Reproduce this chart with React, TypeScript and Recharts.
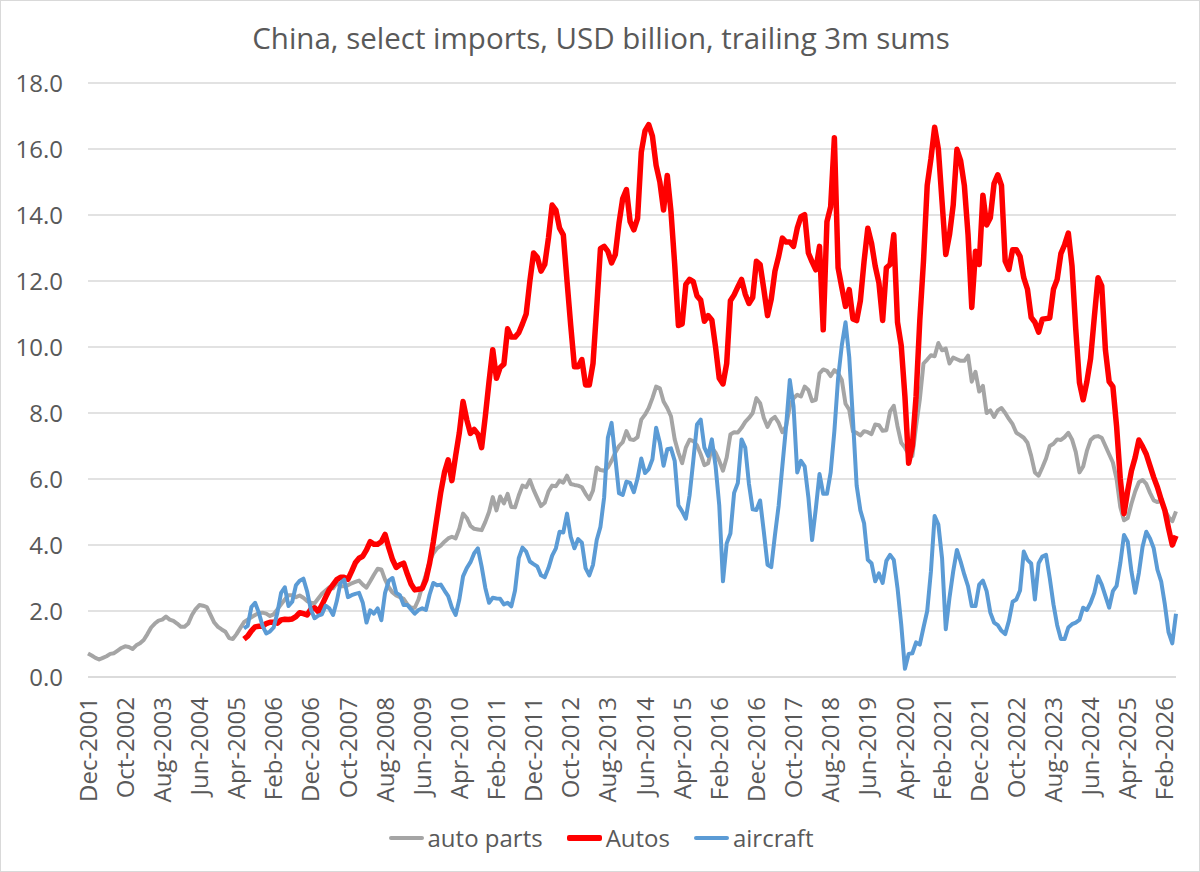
import React from 'react';
import { LineChart, Line, XAxis, YAxis, CartesianGrid } from 'recharts';

const MONTHS = ['Jan', 'Feb', 'Mar', 'Apr', 'May', 'Jun', 'Jul', 'Aug', 'Sep', 'Oct', 'Nov', 'Dec'];
const FIRST_YEAR = 2001;
const FIRST_MONTH = 11; // Dec
const SERIES_START = 42; // Jun-2005, first month for Autos and aircraft

const autoParts = [
  0.71, 0.65, 0.58, 0.53, 0.58, 0.63, 0.70, 0.72, 0.80, 0.88,
  0.93, 0.91, 0.85, 0.96, 1.02, 1.12, 1.30, 1.50, 1.62, 1.71,
  1.74, 1.83, 1.74, 1.70, 1.62, 1.52, 1.52, 1.62, 1.88, 2.06,
  2.18, 2.16, 2.12, 1.88, 1.65, 1.52, 1.44, 1.37, 1.18, 1.15,
  1.30, 1.48, 1.66, 1.74, 1.81, 1.88, 1.94, 1.95, 1.92, 1.85,
  1.90, 2.05, 2.20, 2.35, 2.48, 2.48, 2.42, 2.47, 2.40, 2.30,
  2.25, 2.23, 2.38, 2.52, 2.62, 2.72, 2.69, 2.85, 2.75, 2.75,
  2.78, 2.84, 2.88, 2.92, 2.80, 2.71, 2.90, 3.10, 3.28, 3.26,
  2.95, 2.72, 2.56, 2.47, 2.42, 2.37, 2.20, 2.10, 2.10, 2.35,
  2.75, 3.10, 3.50, 3.75, 3.90, 3.98, 4.10, 4.20, 4.25, 4.20,
  4.50, 4.95, 4.82, 4.58, 4.49, 4.47, 4.45, 4.70, 5.00, 5.45,
  5.05, 5.47, 5.26, 5.55, 5.15, 5.14, 5.50, 5.80, 5.75, 5.97,
  5.67, 5.42, 5.18, 5.28, 5.62, 5.80, 5.78, 5.95, 5.89, 6.10,
  5.85, 5.82, 5.80, 5.75, 5.55, 5.39, 5.65, 6.35, 6.27, 6.25,
  6.35, 6.55, 6.80, 7.00, 7.12, 7.45, 7.20, 7.18, 7.27, 7.80,
  7.95, 8.15, 8.45, 8.80, 8.75, 8.35, 8.15, 7.90, 7.20, 6.80,
  6.48, 6.95, 7.19, 7.15, 7.02, 6.75, 6.42, 6.48, 6.95, 6.80,
  6.55, 6.25, 6.65, 7.35, 7.42, 7.41, 7.55, 7.73, 7.85, 8.00,
  8.45, 8.30, 7.85, 7.58, 7.80, 7.88, 7.70, 7.42, 7.60, 8.20,
  8.45, 8.55, 8.50, 8.80, 8.70, 8.36, 8.40, 9.20, 9.32, 9.28,
  9.12, 9.30, 9.21, 9.00, 8.28, 8.10, 7.44, 7.40, 7.32, 7.45,
  7.42, 7.36, 7.65, 7.63, 7.46, 7.48, 8.05, 8.22, 7.60, 7.10,
  6.95, 6.75, 6.70, 7.60, 8.40, 9.50, 9.62, 9.75, 9.72, 10.12,
  9.90, 9.95, 9.50, 9.68, 9.63, 9.58, 9.58, 9.74, 8.95, 9.25,
  8.65, 8.82, 8.00, 8.08, 7.88, 8.08, 8.15, 8.00, 7.82, 7.66,
  7.40, 7.33, 7.25, 7.10, 6.70, 6.20, 6.10, 6.35, 6.62, 7.00,
  7.07, 7.20, 7.18, 7.27, 7.40, 7.20, 6.82, 6.20, 6.38, 6.85,
  7.18, 7.28, 7.30, 7.25, 7.00, 6.75, 6.50, 6.00, 5.15, 4.75,
  4.82, 5.25, 5.62, 5.90, 5.97, 5.85, 5.58, 5.35, 5.30, 5.35,
  5.05, 4.85, 4.72, 5.02,
];

// Autos, from Jun-2005
const autos = [
  1.15, 1.24, 1.40, 1.52, 1.54, 1.54, 1.62, 1.66,
  1.66, 1.63, 1.73, 1.75, 1.74, 1.76, 1.83, 1.95, 1.92, 1.88,
  2.05, 2.10, 1.98, 2.18, 2.42, 2.65, 2.80, 2.95, 3.02, 3.02,
  2.96, 3.20, 3.46, 3.60, 3.66, 3.85, 4.10, 4.02, 4.02, 4.10,
  4.32, 3.92, 3.56, 3.32, 3.40, 3.45, 3.12, 2.82, 2.64, 2.66,
  2.68, 2.95, 3.45, 4.10, 4.85, 5.60, 6.20, 6.58, 5.95, 6.70,
  7.40, 8.35, 7.80, 7.38, 7.50, 7.36, 6.95, 7.90, 8.95, 9.92,
  9.05, 9.38, 9.48, 10.55, 10.30, 10.30, 10.43, 10.70, 11.00, 12.00,
  12.85, 12.72, 12.30, 12.50, 13.30, 14.30, 14.15, 13.60, 13.40, 12.00,
  10.65, 9.40, 9.40, 9.62, 8.85, 8.85, 9.50, 11.20, 12.98, 13.05,
  12.90, 12.55, 12.80, 13.75, 14.50, 14.77, 13.80, 13.55, 13.90, 15.90,
  16.55, 16.74, 16.39, 15.50, 15.00, 14.15, 15.20, 14.10, 12.50, 10.65,
  10.70, 11.90, 12.05, 11.98, 11.55, 11.42, 10.78, 10.95, 10.82, 10.00,
  9.05, 8.88, 9.50, 11.40, 11.58, 11.82, 12.05, 11.60, 11.32, 11.50,
  12.60, 12.50, 11.75, 10.95, 11.45, 12.30, 12.75, 13.30, 13.18, 13.18,
  13.05, 13.60, 13.95, 14.01, 12.85, 12.58, 12.34, 13.05, 10.52, 13.80,
  14.25, 16.34, 12.40, 11.80, 11.23, 11.74, 10.85, 10.80, 11.40, 12.60,
  13.60, 13.15, 12.45, 11.94, 10.80, 12.40, 12.50, 13.40, 10.75, 10.05,
  8.50, 6.48, 7.00, 8.50, 10.80, 12.60, 14.90, 15.70, 16.66, 16.00,
  14.40, 12.80, 13.40, 14.30, 15.99, 15.65, 14.90, 13.40, 11.20, 12.90,
  12.50, 14.60, 13.70, 13.92, 14.95, 15.22, 14.90, 12.60, 12.35, 12.95,
  12.95, 12.75, 12.10, 11.75, 10.90, 10.75, 10.45, 10.84, 10.86, 10.88,
  11.75, 12.05, 12.83, 13.10, 13.45, 12.45, 10.55, 8.92, 8.40, 8.95,
  9.65, 10.90, 12.10, 11.85, 9.90, 8.95, 8.80, 7.60, 6.00, 4.95,
  5.65, 6.25, 6.65, 7.18, 6.98, 6.75, 6.40, 6.05, 5.75, 5.38,
  5.05, 4.50, 4.00, 4.28,
];

// aircraft, from Jun-2005
const aircraft = [
  1.47, 1.55, 2.12, 2.25, 1.95, 1.55, 1.32, 1.38,
  1.50, 1.95, 2.55, 2.72, 2.15, 2.28, 2.78, 2.92, 2.98, 2.60,
  2.05, 1.78, 1.86, 1.90, 2.16, 2.08, 1.88, 2.30, 2.85, 2.95,
  2.42, 2.48, 2.52, 2.55, 2.25, 1.65, 2.02, 1.92, 2.08, 1.72,
  2.55, 2.92, 3.00, 2.55, 2.48, 2.18, 2.18, 2.05, 1.92, 2.03,
  2.08, 2.03, 2.50, 2.85, 2.78, 2.80, 2.62, 2.45, 2.10, 1.88,
  2.35, 3.05, 3.30, 3.48, 3.75, 3.90, 3.35, 2.70, 2.25, 2.40,
  2.38, 2.37, 2.20, 2.25, 2.14, 2.62, 3.60, 3.92, 3.80, 3.50,
  3.42, 3.35, 3.08, 3.02, 3.30, 3.68, 3.90, 4.40, 4.38, 4.95,
  4.25, 3.90, 4.18, 4.07, 3.30, 3.08, 3.40, 4.15, 4.55, 5.45,
  7.25, 7.70, 6.65, 5.57, 5.52, 5.92, 5.88, 5.60, 6.02, 6.62,
  6.18, 6.30, 6.60, 7.55, 7.10, 6.40, 6.90, 6.93, 6.55, 5.20,
  5.02, 4.80, 5.50, 6.55, 7.65, 7.80, 6.95, 6.70, 7.20, 6.40,
  5.20, 2.90, 4.05, 4.35, 5.58, 5.88, 7.20, 6.95, 5.85, 5.08,
  5.06, 5.35, 4.40, 3.40, 3.33, 4.30, 5.20, 6.40, 7.60, 9.00,
  8.20, 6.20, 6.55, 6.38, 5.45, 4.15, 5.10, 6.15, 5.55, 5.55,
  6.20, 7.45, 9.05, 10.05, 10.75, 9.70, 7.80, 5.80, 5.05, 4.66,
  3.55, 3.45, 2.90, 3.14, 2.85, 3.52, 3.70, 3.55, 2.70, 1.60,
  0.25, 0.70, 0.72, 1.05, 0.98, 1.50, 2.00, 3.20, 4.88, 4.62,
  3.60, 1.45, 2.40, 3.20, 3.85, 3.50, 3.10, 2.75, 2.15, 2.15,
  2.80, 2.92, 2.60, 1.95, 1.65, 1.57, 1.40, 1.30, 1.70, 2.28,
  2.35, 2.62, 3.80, 3.55, 3.44, 2.35, 3.45, 3.65, 3.70, 3.00,
  2.20, 1.57, 1.15, 1.15, 1.50, 1.60, 1.65, 1.73, 2.10, 2.03,
  2.25, 2.55, 3.05, 2.80, 2.45, 2.10, 2.60, 2.76, 3.45, 4.30,
  4.10, 3.20, 2.55, 3.15, 3.95, 4.40, 4.20, 3.90, 3.25, 2.90,
  2.20, 1.35, 1.02, 1.92,
];

const yTicks = [0, 2, 4, 6, 8, 10, 12, 14, 16, 18];

const monthLabel = (i: number) => {
  const k = FIRST_MONTH + i;
  return `${MONTHS[k % 12]}-${FIRST_YEAR + Math.floor(k / 12)}`;
};

const data = autoParts.map((v, i) => ({
  month: monthLabel(i),
  parts: v,
  autos: i >= SERIES_START ? autos[i - SERIES_START] : null,
  aircraft: i >= SERIES_START ? aircraft[i - SERIES_START] : null,
}));

const FONT = '"Open Sans", sans-serif';
const TEXT = '#595959';

const legendItems = [
  { label: 'auto parts', color: '#A5A5A5', width: 4 },
  { label: 'Autos', color: '#FF0000', width: 6 },
  { label: 'aircraft', color: '#5B9BD5', width: 4 },
];

function MonthTick({ x, y, payload }: any) {
  return (
    <text
      x={x}
      y={y}
      transform={`rotate(-90 ${x} ${y})`}
      textAnchor="end"
      dy="0.36em"
      fontSize={24}
      fill={TEXT}
      fontFamily={FONT}
    >
      {payload.value}
    </text>
  );
}

export default function App() {
  return (
    <div
      style={{
        position: 'absolute',
        left: 0,
        top: 0,
        width: 1200,
        height: 872,
        background: '#fff',
        border: '1px solid #d9d9d9',
        boxSizing: 'border-box',
        fontFamily: FONT,
        overflow: 'hidden',
      }}
    >
      <div
        style={{
          position: 'absolute',
          top: 16,
          left: 0,
          width: 1200,
          textAlign: 'center',
          fontSize: 29.5,
          color: TEXT,
        }}
      >
        China, select imports, USD billion, trailing 3m sums
      </div>
      <div style={{ position: 'absolute', left: -1, top: -1 }}>
        <LineChart
          width={1200}
          height={872}
          data={data}
          margin={{ top: 83, right: 24, left: 8, bottom: 85 }}
        >
          <CartesianGrid vertical={false} stroke="#d9d9d9" strokeWidth={1.3} />
          <XAxis
            dataKey="month"
            interval={9}
            tickLine={false}
            axisLine={{ stroke: '#d9d9d9', strokeWidth: 1.3 }}
            tickSize={0}
            tickMargin={20}
            height={110}
            tick={<MonthTick />}
          />
          <YAxis
            domain={[0, 18]}
            ticks={yTicks}
            width={80}
            axisLine={false}
            tickLine={false}
            tickSize={0}
            tickMargin={25}
            tickFormatter={(v: number) => v.toFixed(1)}
            tick={{ fontSize: 24, fill: TEXT, fontFamily: FONT }}
          />
          <Line
            type="linear"
            dataKey="parts"
            stroke="#A5A5A5"
            strokeWidth={4}
            dot={false}
            strokeLinejoin="round"
            isAnimationActive={false}
          />
          <Line
            type="linear"
            dataKey="autos"
            stroke="#FF0000"
            strokeWidth={5.5}
            dot={false}
            strokeLinejoin="round"
            isAnimationActive={false}
          />
          <Line
            type="linear"
            dataKey="aircraft"
            stroke="#5B9BD5"
            strokeWidth={4}
            dot={false}
            strokeLinejoin="round"
            isAnimationActive={false}
          />
        </LineChart>
      </div>
      <div
        style={{
          position: 'absolute',
          top: 820,
          left: 0,
          width: 1200,
          display: 'flex',
          justifyContent: 'center',
          alignItems: 'center',
          gap: 24,
          fontSize: 24,
          color: TEXT,
        }}
      >
        {legendItems.map((it) => (
          <div key={it.label} style={{ display: 'flex', alignItems: 'center' }}>
            <span
              style={{
                display: 'inline-block',
                width: 35,
                height: it.width,
                background: it.color,
                borderRadius: 2,
                marginRight: 4,
              }}
            />
            <span>{it.label}</span>
          </div>
        ))}
      </div>
    </div>
  );
}
